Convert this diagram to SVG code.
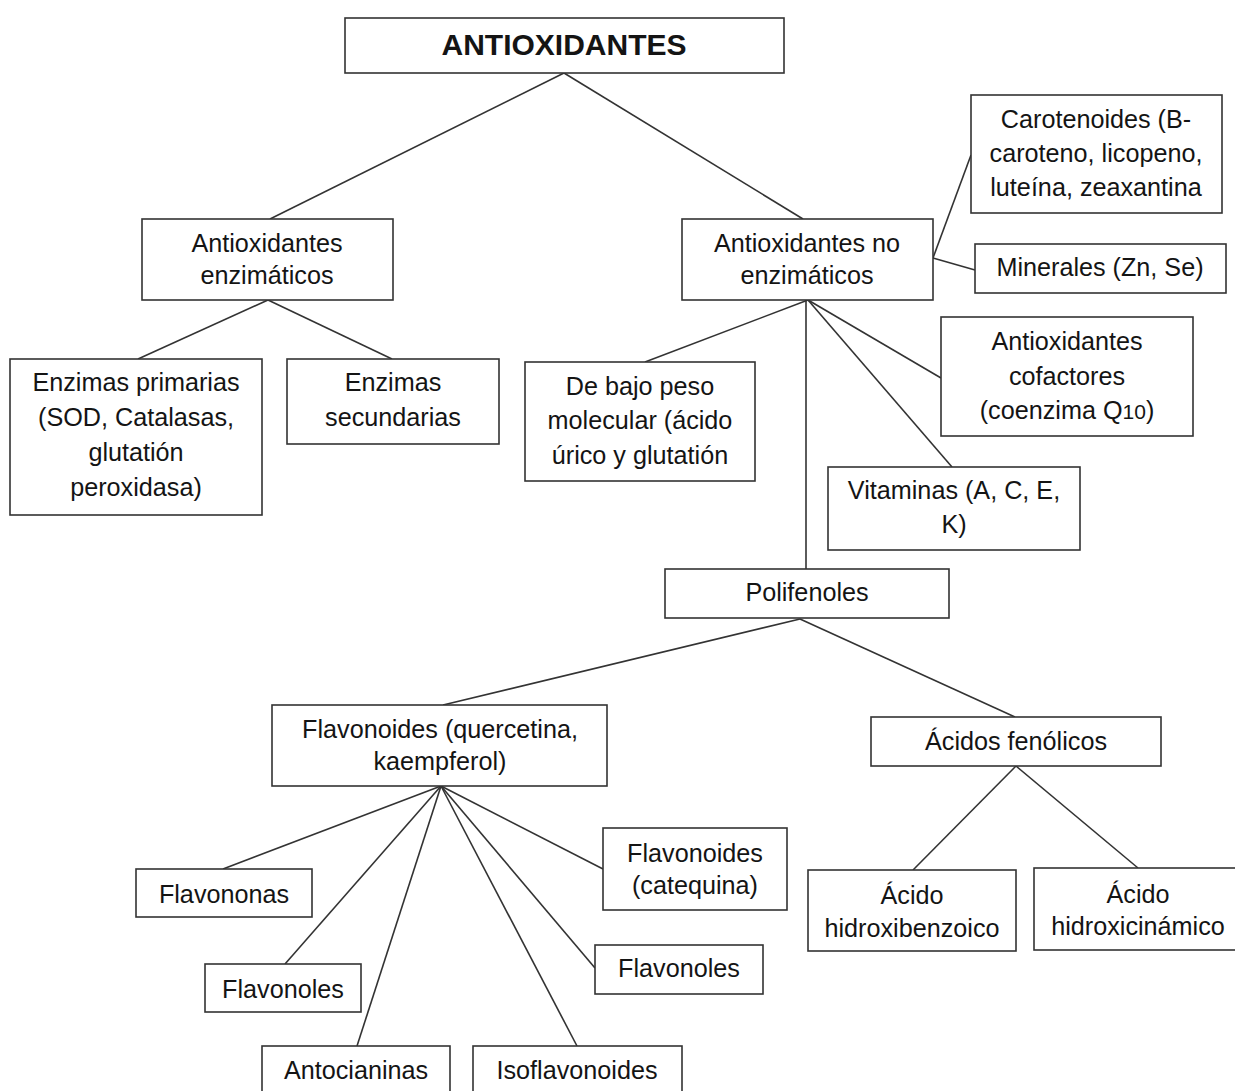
<svg xmlns="http://www.w3.org/2000/svg" width="1235" height="1091" viewBox="0 0 1235 1091">
<style>
rect{fill:#fff;stroke:#333;stroke-width:1.6}
text{font-family:"Liberation Sans",Arial,sans-serif;font-size:25.2px;fill:#141414;text-anchor:middle}
.t{font-weight:bold;font-size:30px}
#connectors line{stroke:#333;stroke-width:1.6}
</style>
<rect x="0" y="0" width="1235" height="1091" style="fill:#fff;stroke:none"/>
<g id="connectors">
<line x1="564" y1="73" x2="270" y2="219"/>
<line x1="564" y1="73" x2="803" y2="219"/>
<line x1="268" y1="300" x2="138" y2="359"/>
<line x1="268" y1="300" x2="392" y2="359"/>
<line x1="933" y1="258" x2="971" y2="155"/>
<line x1="933" y1="258" x2="975" y2="270"/>
<line x1="808" y1="300" x2="645" y2="362"/>
<line x1="808" y1="300" x2="941" y2="378"/>
<line x1="808" y1="300" x2="952" y2="467"/>
<line x1="806" y1="300" x2="806" y2="569"/>
<line x1="800" y1="619" x2="443" y2="705"/>
<line x1="800" y1="619" x2="1015" y2="717"/>
<line x1="441" y1="786" x2="223" y2="869"/>
<line x1="441" y1="786" x2="285" y2="964"/>
<line x1="441" y1="786" x2="357" y2="1046"/>
<line x1="441" y1="786" x2="577" y2="1046"/>
<line x1="441" y1="786" x2="595" y2="968"/>
<line x1="441" y1="786" x2="603" y2="869"/>
<line x1="1016" y1="766" x2="913" y2="870"/>
<line x1="1016" y1="766" x2="1138" y2="868"/>
</g>
<g id="root"><rect x="345" y="18" width="439" height="55"/><text class="t" x="564" y="55">ANTIOXIDANTES</text></g>
<g id="enzimaticos"><rect x="142" y="219" width="251" height="81"/><text x="267" y="252">Antioxidantes</text><text x="267" y="284">enzimáticos</text></g>
<g id="no-enzimaticos"><rect x="682" y="219" width="251" height="81"/><text x="807" y="252">Antioxidantes no</text><text x="807" y="284">enzimáticos</text></g>
<g id="carotenoides"><rect x="971" y="95" width="251" height="118"/><text x="1096" y="128">Carotenoides (B-</text><text x="1096" y="162">caroteno, licopeno,</text><text x="1096" y="196">luteína, zeaxantina</text></g>
<g id="minerales"><rect x="975" y="244" width="251" height="49"/><text x="1100" y="276">Minerales (Zn, Se)</text></g>
<g id="enzimas-primarias"><rect x="10" y="359" width="252" height="156"/><text x="136" y="391">Enzimas primarias</text><text x="136" y="426">(SOD, Catalasas,</text><text x="136" y="461">glutatión</text><text x="136" y="496">peroxidasa)</text></g>
<g id="enzimas-secundarias"><rect x="287" y="359" width="212" height="85"/><text x="393" y="391">Enzimas</text><text x="393" y="426">secundarias</text></g>
<g id="bajo-peso"><rect x="525" y="362" width="230" height="119"/><text x="640" y="395">De bajo peso</text><text x="640" y="429">molecular (ácido</text><text x="640" y="464">úrico y glutatión</text></g>
<g id="cofactores"><rect x="941" y="317" width="252" height="119"/><text x="1067" y="350">Antioxidantes</text><text x="1067" y="385">cofactores</text><text x="1067" y="419">(coenzima Q<tspan style="font-size:21px">10</tspan>)</text></g>
<g id="vitaminas"><rect x="828" y="467" width="252" height="83"/><text x="954" y="499">Vitaminas (A, C, E,</text><text x="954" y="533">K)</text></g>
<g id="polifenoles"><rect x="665" y="569" width="284" height="49"/><text x="807" y="601">Polifenoles</text></g>
<g id="flavonoides"><rect x="272" y="705" width="335" height="81"/><text x="440" y="738">Flavonoides (quercetina,</text><text x="440" y="770">kaempferol)</text></g>
<g id="acidos-fenolicos"><rect x="871" y="717" width="290" height="49"/><text x="1016" y="750">Ácidos fenólicos</text></g>
<g id="flavononas"><rect x="136" y="869" width="176" height="48"/><text x="224" y="903">Flavononas</text></g>
<g id="flavonoles-1"><rect x="205" y="964" width="156" height="48"/><text x="283" y="998">Flavonoles</text></g>
<g id="antocianinas"><rect x="262" y="1046" width="188" height="50"/><text x="356" y="1079">Antocianinas</text></g>
<g id="isoflavonoides"><rect x="473" y="1046" width="209" height="50"/><text x="577" y="1079">Isoflavonoides</text></g>
<g id="catequina"><rect x="603" y="828" width="184" height="82"/><text x="695" y="862">Flavonoides</text><text x="695" y="894">(catequina)</text></g>
<g id="flavonoles-2"><rect x="595" y="945" width="168" height="49"/><text x="679" y="977">Flavonoles</text></g>
<g id="hidroxibenzoico"><rect x="808" y="870" width="208" height="81"/><text x="912" y="904">Ácido</text><text x="912" y="937">hidroxibenzoico</text></g>
<g id="hidroxicinamico"><rect x="1034" y="868" width="203" height="82"/><text x="1138" y="903">Ácido</text><text x="1138" y="935">hidroxicinámico</text></g>
</svg>
